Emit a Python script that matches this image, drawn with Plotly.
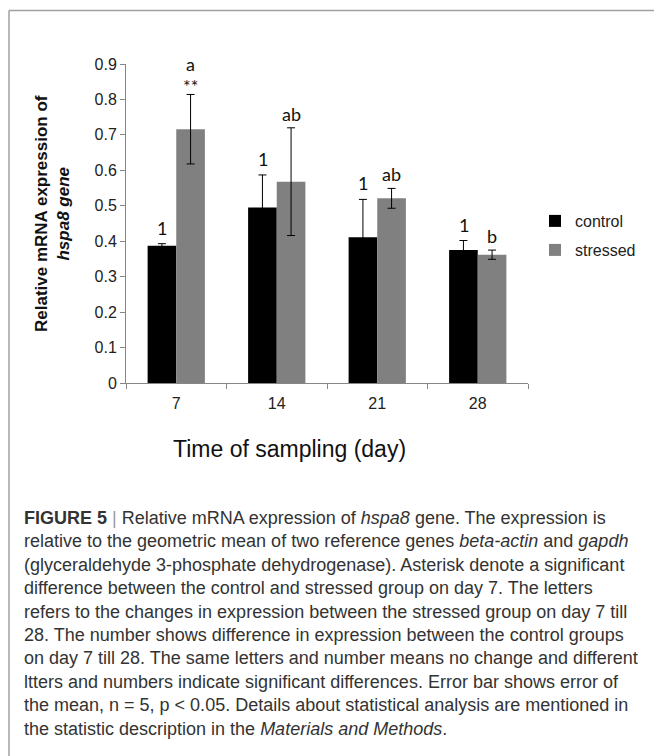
import plotly.graph_objects as go

# Sampling days and expression means / errors
days = ["7", "14", "21", "28"]
control_mean = [0.387, 0.495, 0.411, 0.375]
control_err = [0.006, 0.092, 0.107, 0.027]
stressed_mean = [0.716, 0.568, 0.521, 0.362]
stressed_err = [0.098, 0.152, 0.028, 0.013]

# Significance labels drawn above the error bars
control_labels = ["1", "1", "1", "1"]
stressed_labels = ["a", "ab", "ab", "b"]
star_labels = ["**", "", "", ""]

y_ticks = [0, 0.1, 0.2, 0.3, 0.4, 0.5, 0.6, 0.7, 0.8, 0.9]

caption_lines = [
    "<b>FIGURE 5</b> <span style='color:#9a9a9a'>|</span> Relative mRNA expression of <i>hspa8</i> gene. The expression is",
    "relative to the geometric mean of two reference genes <i>beta-actin</i> and <i>gapdh</i>",
    "(glyceraldehyde 3-phosphate dehydrogenase). Asterisk denote a significant",
    "difference between the control and stressed group on day 7. The letters",
    "refers to the changes in expression between the stressed group on day 7 till",
    "28. The number shows difference in expression between the control groups",
    "on day 7 till 28. The same letters and number means no change and different",
    "ltters and numbers indicate significant differences. Error bar shows error of",
    "the mean, n = 5, p &lt; 0.05. Details about statistical analysis are mentioned in",
    "the statistic description in the <i>Materials and Methods</i>.",
]

W, H = 654, 756
AX = "#868686"
FONT = "Liberation Sans, Arial, sans-serif"

fig = go.Figure()

fig.add_trace(go.Bar(
    x=days, y=control_mean, name="control",
    marker=dict(color="#000000", line=dict(width=0)),
    error_y=dict(type="data", array=control_err, color="#000000", thickness=1, width=4),
    legend="legend",
))
fig.add_trace(go.Bar(
    x=days, y=stressed_mean, name="stressed",
    marker=dict(color="#808080", line=dict(width=0)),
    error_y=dict(type="data", array=stressed_err, color="#000000", thickness=1, width=4),
    legend="legend2",
))

annotations = []
LETTER_FONT = dict(family="Lato, Liberation Sans, sans-serif", size=18, color="#111111")
for i, d in enumerate(days):
    # category index i is the position of day d on the x axis
    annotations.append(dict(x=i, y=control_mean[i] + control_err[i], xref="x", yref="y",
                            text=control_labels[i], showarrow=False, xshift=-14.25,
                            yshift=16, yanchor="middle", font=LETTER_FONT))
    annotations.append(dict(x=i, y=stressed_mean[i] + stressed_err[i], xref="x", yref="y",
                            text=stressed_labels[i], showarrow=False, xshift=14.25,
                            yshift=30 if star_labels[i] else 14, yanchor="middle",
                            font=LETTER_FONT))
    if star_labels[i]:
        annotations.append(dict(x=i, y=stressed_mean[i] + stressed_err[i], xref="x", yref="y",
                                text=star_labels[i], showarrow=False, xshift=14.25,
                                yshift=8, yanchor="middle", font=LETTER_FONT))

# axis titles
annotations.append(dict(
    x=52, y=H - 214, xref="paper", yref="paper", showarrow=False, textangle=-90,
    text="<b>Relative mRNA expression of</b><br><b><i>hspa8 gene</i></b>",
    font=dict(family=FONT, size=17, color="#111111"),
    xanchor="center", yanchor="middle",
))
annotations.append(dict(
    x=289, y=H - 449, xref="paper", yref="paper", showarrow=False,
    text="Time of sampling (day)",
    font=dict(family=FONT, size=23, color="#111111"),
    xanchor="center", yanchor="middle",
))

# caption lines
for k, line in enumerate(caption_lines):
    annotations.append(dict(
        x=22, y=H - (518 + 23.4 * k), xref="paper", yref="paper", showarrow=False,
        text=line, align="left", xanchor="left", yanchor="middle",
        font=dict(family=FONT, size=18, color="#333333"),
    ))

# convert pixel positions of the free annotations to paper fractions
L, R, T, B = 126, 126, 64, 373
pw, ph = W - L - R, H - T - B
for a in annotations:
    if a["xref"] == "paper":
        a["x"] = (a["x"] - L) / pw
        a["y"] = (a["y"] - B) / ph

fig.update_layout(
    width=W, height=H,
    margin=dict(l=L, r=R, t=T, b=B, pad=0),
    paper_bgcolor="white", plot_bgcolor="white",
    showlegend=True,
    barmode="group", bargap=0.43, bargroupgap=0,
    font=dict(family=FONT, size=15.5, color="#222222"),
    xaxis=dict(type="category", categoryorder="array", categoryarray=days,
               range=[-0.5, len(days) - 0.5],
               showline=True, linecolor=AX, linewidth=1,
               ticks="outside", tickson="boundaries", ticklen=5, tickcolor=AX,
               ticklabelstandoff=6,
               showgrid=False, tickangle=0, tickfont=dict(size=16, color="#222222")),
    yaxis=dict(range=[0, 0.9], tickvals=y_ticks, ticktext=[f"{v:g}" for v in y_ticks],
               showline=True, linecolor=AX, linewidth=1, ticks="outside", ticklen=5,
               tickcolor=AX, showgrid=False, zeroline=False,
               tickfont=dict(size=16, color="#222222")),
    legend=dict(x=(535 - L) / pw, y=(H - 221 - B) / ph, xanchor="left", yanchor="middle",
                font=dict(size=16, color="#222222"), bgcolor="rgba(0,0,0,0)"),
    legend2=dict(x=(535 - L) / pw, y=(H - 250 - B) / ph, xanchor="left", yanchor="middle",
                 font=dict(size=16, color="#222222"), bgcolor="rgba(0,0,0,0)"),
    annotations=annotations,
    shapes=[
        dict(type="line", xref="paper", yref="paper",
             x0=(9 - L) / pw, x1=(W + 2 - L) / pw, y0=(H - 10.5 - B) / ph, y1=(H - 10.5 - B) / ph,
             line=dict(color="#a0a0a0", width=1.5)),
        dict(type="line", xref="paper", yref="paper",
             x0=(9 - L) / pw, x1=(9 - L) / pw, y0=(H - 10.5 - B) / ph, y1=(-2 - B) / ph,
             line=dict(color="#a0a0a0", width=1.5)),
    ],
)

fig.write_html("out.html")
